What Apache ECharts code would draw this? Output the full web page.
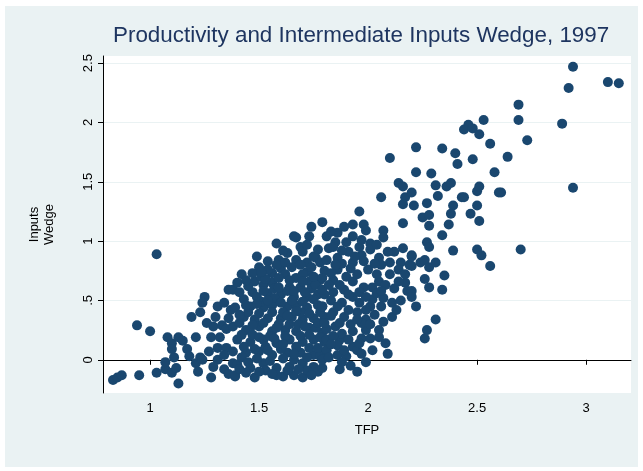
<!DOCTYPE html>
<html>
<head>
<meta charset="utf-8">
<script src="https://cdn.jsdelivr.net/npm/echarts@6/dist/echarts.min.js"></script>
<style>
html, body { margin: 0; background: #fff; }
#wrap { position: relative; width: 643px; height: 471px; background: #fff; }
#back { position: absolute; left: 5px; top: 6px; width: 633px; height: 461px; background: #eaf2f3; }
#main { position: absolute; left: 0; top: 0; width: 643px; height: 471px; }
</style>
</head>
<body>
<div id="wrap"><div id="back"></div><div id="main"></div></div>
<script>
// TFP vs inputs wedge
const lowTail = [
  [0.83,-0.17],[0.85,-0.15],[0.87,-0.13],[0.95,-0.13],[0.94,0.29],[1.00,0.24],[1.03,0.89],[1.03,-0.11],
  [1.07,-0.08],[1.07,-0.02],[1.11,0.02],[1.10,-0.11],[1.12,-0.07],[1.13,-0.20],[1.08,0.19],[1.10,0.14],
  [1.10,0.09],[1.13,0.19],[1.15,0.16],[1.17,0.09],[1.18,0.03],[1.19,0.36],[1.21,0.19],[1.23,0.40],
  [1.25,0.53],[1.24,0.48],[1.28,0.19],[1.21,-0.03],[1.23,0.02],[1.22,-0.10],[1.24,0.00],[1.28,-0.15],
  [1.31,0.10],[1.31,0.00],[1.34,-0.08],[1.31,0.45],[1.30,0.36],[1.29,0.28],[1.33,0.29],[1.32,0.19],
  [1.36,0.59],[1.34,0.48],[1.37,0.42],[1.39,-0.14],[1.38,-0.03],[1.35,0.10],[1.35,0.26],[1.27,0.07],
  [1.26,0.31],[1.36,0.35],[1.34,0.04],[1.29,-0.06],[1.36,-0.12]
];

const core = [
  [1.58,0.98],[1.67,1.03],[1.73,1.04],[1.69,0.95],[1.63,0.90],[1.67,0.84],[1.70,0.91],[1.76,0.86],
  [1.72,0.82],[1.72,0.74],[1.78,0.82],[1.73,0.66],[1.78,0.67],[1.59,0.84],[1.54,0.83],[1.50,0.78],
  [1.60,0.77],[1.56,0.73],[1.62,0.72],[1.67,0.69],[1.48,0.66],[1.52,0.63],[1.56,0.65],[1.64,0.61],
  [1.69,0.61],[1.38,0.59],[1.43,0.51],[1.47,0.57],[1.49,0.53],[1.54,0.56],[1.60,0.55],[1.66,0.53],
  [1.72,0.53],[1.77,0.55],[1.77,0.46],[1.39,0.44],[1.46,0.45],[1.52,0.44],[1.56,0.46],[1.63,0.45],
  [1.67,0.46],[1.72,0.44],[1.43,0.36],[1.48,0.34],[1.54,0.35],[1.60,0.35],[1.65,0.36],[1.70,0.34],
  [1.75,0.35],[1.80,0.36],[1.38,0.28],[1.44,0.25],[1.50,0.28],[1.56,0.24],[1.62,0.25],[1.67,0.24],
  [1.73,0.27],[1.79,0.23],[1.40,0.17],[1.46,0.15],[1.52,0.17],[1.58,0.14],[1.64,0.17],[1.70,0.15],
  [1.75,0.17],[1.38,0.07],[1.44,0.06],[1.50,0.07],[1.56,0.04],[1.63,0.06],[1.69,0.06],[1.75,0.04],
  [1.79,0.06],[1.40,-0.04],[1.46,-0.07],[1.52,-0.03],[1.58,-0.07],[1.64,-0.06],[1.70,-0.03],[1.39,-0.13],
  [1.44,-0.11],[1.48,-0.15],[1.61,-0.14],[1.66,-0.13],[1.70,-0.15],[1.75,-0.06],[1.78,0.03],[1.40,0.65],
  [1.42,0.72],[1.47,0.73],[1.54,0.76],[1.49,0.87],[1.41,0.31],[1.47,0.21],[1.53,0.11],[1.59,0.30],
  [1.61,0.40],[1.57,0.52],[1.51,0.49],[1.45,0.40],[1.42,0.02],[1.55,-0.01],[1.61,0.01],[1.67,0.11],
  [1.73,0.10],[1.77,-0.10],[1.68,0.30],[1.63,0.58],[1.69,0.40],[1.74,0.60],[1.57,0.60],[1.51,0.70],
  [1.45,0.62],[1.65,0.78],[1.70,0.72],[1.62,0.20],[1.55,0.20],[1.48,0.09],[1.45,-0.02],[1.58,-0.13],
  [1.53,-0.09],[1.66,0.00],[1.72,-0.09],[1.76,0.27],[1.79,0.45],[1.80,0.15],[1.66,1.04],[1.75,0.87]
];

// the solid blob in the middle of the cloud
const coreFill = [
  [1.41,-0.08],[1.50,-0.10],[1.56,-0.12],[1.63,-0.09],[1.68,-0.08],[1.74,-0.13],[1.79,-0.07],
  [1.43,0.11],[1.49,0.01],[1.54,0.08],[1.60,0.09],[1.66,0.05],[1.72,0.02],[1.77,0.10],
  [1.42,0.21],[1.50,0.19],[1.57,0.18],[1.61,0.13],[1.69,0.20],[1.73,0.21],[1.78,0.19],
  [1.47,0.29],[1.52,0.31],[1.58,0.27],[1.64,0.30],[1.71,0.28],[1.77,0.31],[1.81,0.26],
  [1.41,0.38],[1.50,0.39],[1.56,0.40],[1.63,0.37],[1.67,0.41],[1.73,0.39],[1.78,0.40],
  [1.44,0.46],[1.49,0.47],[1.54,0.50],[1.60,0.48],[1.65,0.50],[1.70,0.49],[1.75,0.51],
  [1.41,0.57],[1.52,0.58],[1.59,0.61],[1.66,0.58],[1.71,0.57],[1.76,0.63],[1.80,0.55],
  [1.44,0.67],[1.53,0.68],[1.59,0.69],[1.64,0.67],[1.70,0.66],[1.75,0.70],[1.80,0.75],
  [1.51,0.74],[1.58,0.80],[1.62,0.82],[1.69,0.80],[1.74,0.78],[1.61,0.92],[1.72,0.97],[1.77,0.93]
];

const middle = [
  [1.79,1.16],[1.74,1.12],[1.93,1.14],[1.98,1.14],[1.89,1.12],[1.96,1.25],[2.07,1.09],[1.99,1.09],
  [2.07,1.03],[1.86,1.07],[1.81,1.04],[1.85,0.99],[1.93,1.04],[2.01,0.98],[2.01,0.93],[1.82,0.94],
  [1.91,0.91],[1.81,0.84],[1.86,0.86],[1.97,0.88],[1.93,0.82],[1.98,0.83],[2.05,0.86],[2.06,0.80],
  [2.12,0.91],[2.16,0.94],[2.20,0.88],[2.19,0.80],[2.15,0.82],[2.14,0.76],[1.86,0.76],[1.79,0.69],
  [1.84,0.67],[1.90,0.70],[1.93,0.66],[1.98,0.61],[2.02,0.61],[2.05,0.66],[2.10,0.72],[2.08,0.63],
  [2.17,0.65],[2.18,0.58],[2.07,0.52],[2.11,0.48],[2.11,0.36],[1.79,0.59],[1.84,0.57],[1.89,0.59],
  [1.93,0.53],[1.96,0.48],[2.01,0.45],[2.02,0.51],[1.79,0.45],[1.84,0.40],[1.89,0.36],[1.95,0.40],
  [1.99,0.34],[1.80,0.31],[1.85,0.28],[1.93,0.24],[1.99,0.25],[2.05,0.25],[2.05,0.19],[1.81,0.17],
  [1.87,0.17],[1.93,0.11],[1.95,0.08],[1.81,0.08],[1.86,0.04],[1.90,0.03],[1.99,-0.02],[2.09,0.05],
  [1.79,0.00],[1.87,-0.08],[1.95,-0.10],[1.83,1.08],[1.84,0.95],[2.16,1.15],[2.10,1.70],[2.14,1.49],
  [2.16,1.46],[2.17,1.37],[2.06,1.37],[2.16,1.31],[1.88,0.48],[1.92,0.30],[1.97,0.18],[1.83,0.50],
  [1.88,0.22],[1.86,0.12],[2.03,0.38],[1.95,0.72],[2.00,0.76],[2.12,0.60],[1.88,0.81],[1.90,0.99],
  [1.96,0.95],[2.04,0.72],[2.09,0.91],[1.96,0.57],[1.91,0.42],[2.04,0.56],[1.84,0.20],[1.89,0.08],
  [1.97,0.31],[1.83,0.73],[1.87,0.63],[1.92,0.77]
];

// denser patches right of the main blob
const middleFill = [
  [1.82,0.02],[1.88,-0.02],[1.92,-0.05],[1.97,0.05],[2.02,0.08],[1.83,0.13],[1.91,0.17],[1.96,0.14],
  [2.01,0.18],[2.08,0.14],[1.83,0.37],[1.87,0.31],[1.95,0.34],[2.01,0.30],[2.07,0.32],[2.13,0.42],
  [1.86,0.45],[1.99,0.42],[2.06,0.45],[2.15,0.50],[1.82,0.63],[1.91,0.55],[1.99,0.53],[2.06,0.58],
  [2.14,0.66],[1.85,0.80],[1.94,0.87],[2.03,0.81],[2.10,0.82],[2.17,0.72],[1.88,0.92],[1.97,1.01],
  [2.04,0.97]
];

const rightTail = [
  [2.94,2.47],[3.10,2.34],[3.15,2.33],[2.92,2.29],[2.69,2.15],[2.69,2.02],[2.89,1.99],[2.73,1.85],
  [2.64,1.71],[2.94,1.45],[2.61,1.41],[2.70,0.93],[2.53,2.02],[2.46,1.98],[2.44,1.94],[2.48,1.95],
  [2.51,1.90],[2.56,1.82],[2.22,1.79],[2.34,1.78],[2.40,1.74],[2.41,1.65],[2.48,1.69],[2.22,1.58],
  [2.29,1.57],[2.58,1.58],[2.20,1.41],[2.31,1.47],[2.32,1.38],[2.36,1.46],[2.38,1.49],[2.50,1.42],
  [2.51,1.46],[2.60,1.41],[2.21,1.30],[2.27,1.32],[2.43,1.37],[2.44,1.37],[2.39,1.30],[2.50,1.30],
  [2.47,1.23],[2.38,1.23],[2.25,1.20],[2.28,1.22],[2.28,1.13],[2.37,1.14],[2.51,1.17],[2.34,1.05],
  [2.27,0.99],[2.28,0.95],[2.39,0.92],[2.50,0.93],[2.52,0.88],[2.56,0.79],[2.20,0.87],[2.20,0.79],
  [2.24,0.82],[2.26,0.84],[2.28,0.78],[2.31,0.82],[2.35,0.71],[2.26,0.68],[2.28,0.61],[2.34,0.59],
  [2.20,0.58],[2.20,0.53],[2.22,0.45],[2.31,0.34],[2.27,0.25],[2.26,0.18]
];

const xTicks = [1, 1.5, 2, 2.5, 3];
const yTicks = [0, 0.5, 1, 1.5, 2, 2.5];

const chart = echarts.init(document.getElementById('main'));

const option = {
  backgroundColor: 'transparent',
  animation: false,
  title: {
    text: 'Productivity and Intermediate Inputs Wedge, 1997',
    left: 108,
    top: 20,
    textStyle: { fontFamily: 'Liberation Sans', fontSize: 22.4, fontWeight: 'normal', color: '#1e3560' }
  },
  grid: {
    left: 103, right: 12, top: 56, bottom: 78,
    show: true, backgroundColor: '#fff', borderWidth: 0
  },
  xAxis: {
    type: 'value',
    min: 0.784, max: 3.206,
    name: 'TFP',
    nameLocation: 'middle',
    nameGap: 31,
    nameTextStyle: { fontFamily: 'Liberation Sans', fontSize: 13, color: '#000' },
    axisLine: { show: true, lineStyle: { color: '#000', width: 1 } },
    axisTick: { show: true, length: 5, customValues: xTicks, lineStyle: { color: '#000' } },
    axisLabel: {
      customValues: xTicks, margin: 9, fontFamily: 'Liberation Sans', fontSize: 13, color: '#000',
      formatter: v => String(v)
    },
    splitLine: { show: false }
  },
  yAxis: {
    type: 'value',
    min: -0.28, max: 2.56,
    name: 'Inputs\nWedge',
    nameLocation: 'middle',
    nameGap: 46,
    nameTextStyle: { fontFamily: 'Liberation Sans', fontSize: 13, color: '#000', lineHeight: 15 },
    axisLine: { show: true, lineStyle: { color: '#000', width: 1 } },
    axisTick: { show: true, length: 5, customValues: yTicks, lineStyle: { color: '#000' } },
    axisLabel: {
      customValues: yTicks, rotate: 90, margin: 8, fontFamily: 'Liberation Sans', fontSize: 13, color: '#000',
      formatter: v => (v === 0 ? '0' : String(v).replace(/^0\./, '.'))
    },
    splitLine: { show: true, lineStyle: { color: '#eaf2f3', width: 1 } }
  },
  series: [{
    type: 'scatter',
    symbol: 'circle',
    symbolSize: 10,
    itemStyle: { color: '#1a476f', opacity: 1 },
    data: [].concat(lowTail, core, coreFill, middle, middleFill, rightTail)
  }]
};

chart.setOption(option);
</script>
</body>
</html>
